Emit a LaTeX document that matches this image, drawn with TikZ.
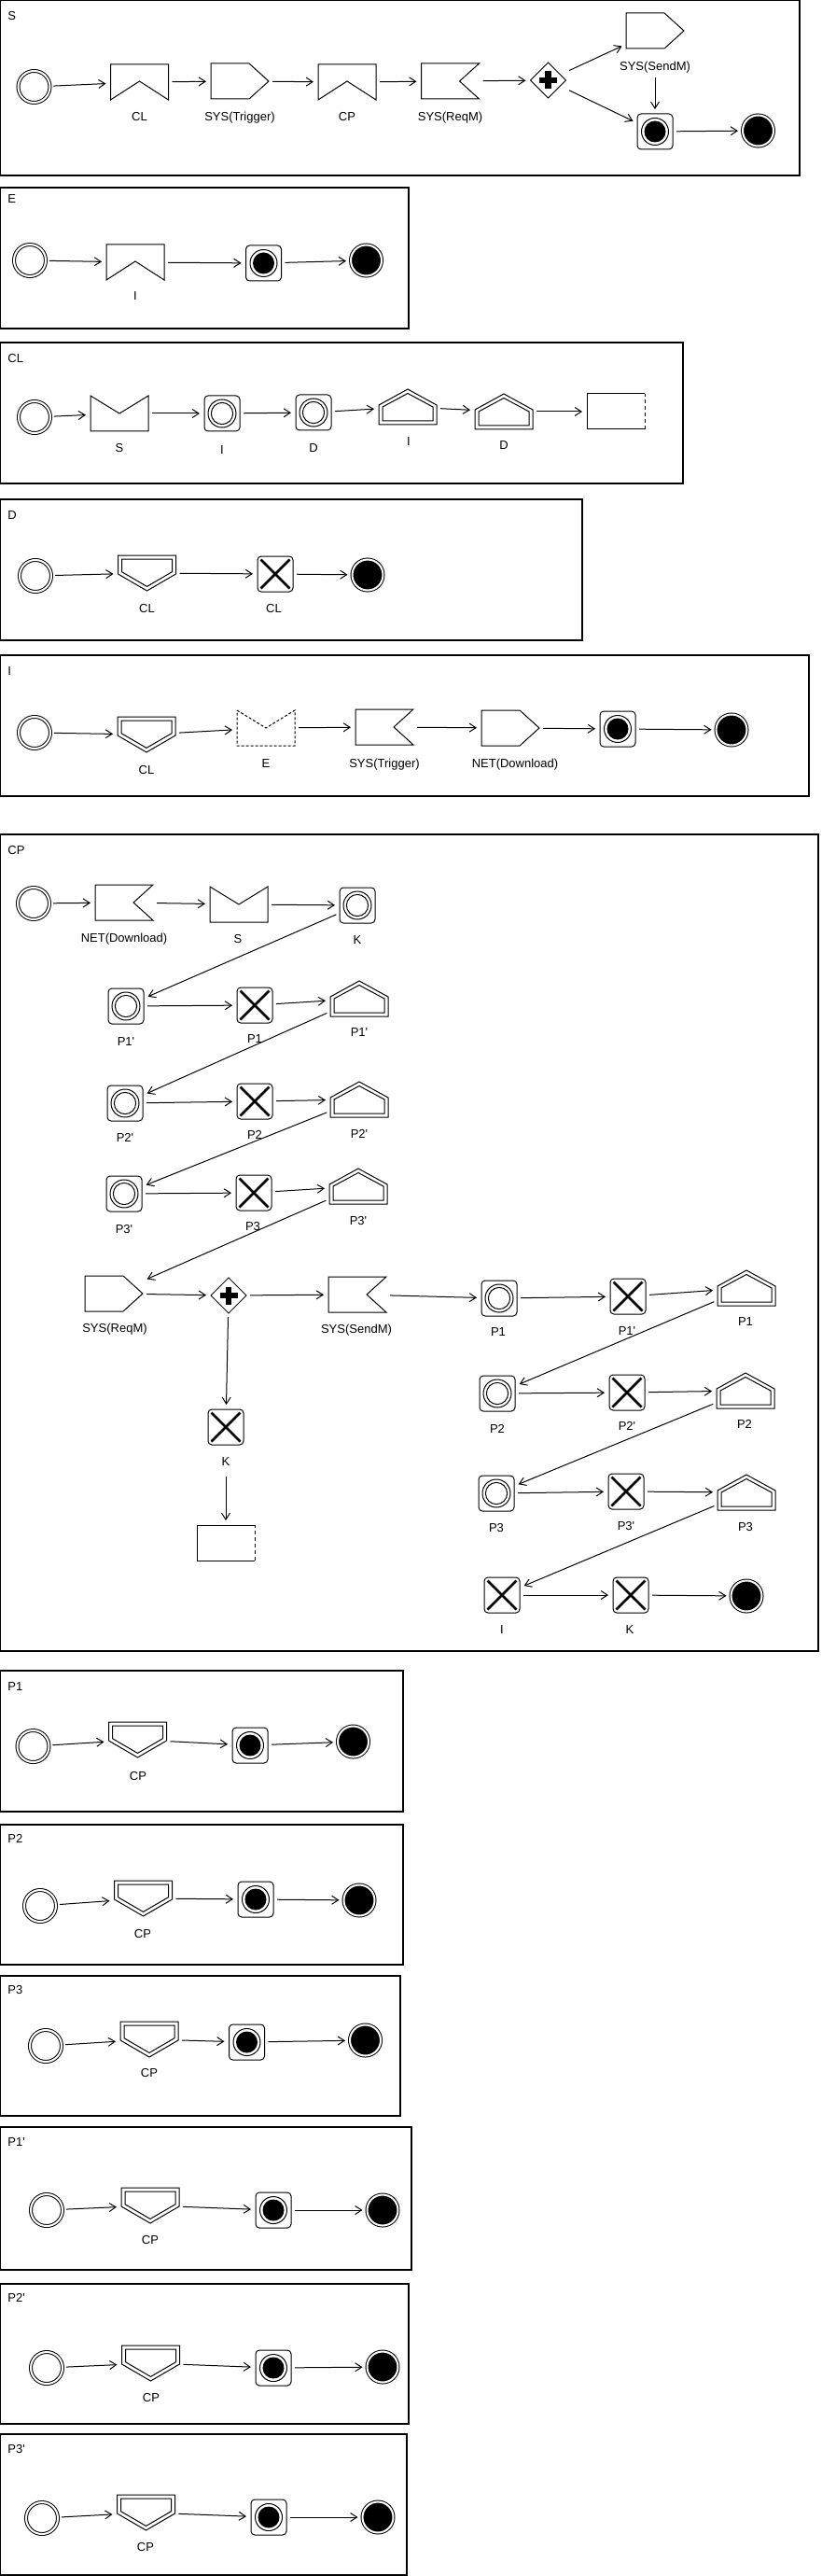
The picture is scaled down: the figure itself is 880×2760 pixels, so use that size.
\documentclass[tikz,border=0pt]{standalone}
\usepackage{fontspec}
\setmainfont{Liberation Sans}
\usetikzlibrary{arrows.meta}
\newcommand\myq{\textquotesingle}
\tikzset{
  lblfont/.style={font=\fontsize{6.5pt}{7.8pt}\selectfont},
  frame/.style={draw, line width=1pt},
  ftitle/.style={lblfont, anchor=west, inner sep=0pt},
  lbl/.style={lblfont, inner sep=0pt, text height=4.8pt, text depth=1.3pt},
  elem/.style={rectangle, minimum width=31pt, minimum height=19pt, inner sep=0pt, outer sep=0pt},
  sq/.style={rectangle, minimum width=19pt, minimum height=19pt, inner sep=0pt, outer sep=0pt},
  deco/.style={append after command={\pgfextra{\begin{pgfinterruptpath}\begin{scope}[shift={(\tikzlastnode.center)}, sharp corners, line width=0.5pt, solid]#1\end{scope}\end{pgfinterruptpath}}}},
  catchA/.style={elem, deco={\draw (-31,-19) -- (31,-19) -- (31,19) -- (0,-1) -- (-31,19) -- cycle;}},
  envel/.style={elem, deco={\draw (-31,-19) -- (0,0) -- (31,-19) -- (31,19) -- (-31,19) -- cycle;}},
  enveldash/.style={elem, deco={\draw[dash pattern=on 1.5pt off 1pt] (-31,-19) -- (0,0) -- (31,-19) -- (31,19) -- (-31,19) -- cycle;}},
  sendR/.style={elem, deco={\draw (-31,-19) -- (10,-19) -- (31,0) -- (10,19) -- (-31,19) -- cycle;}},
  flagR/.style={elem, deco={\draw (-31,-19) -- (31,-19) -- (10,0) -- (31,19) -- (-31,19) -- cycle;}},
  houseup/.style={elem, deco={\draw (-31,19) -- (31,19) -- (31,-2) -- (0,-19) -- (-31,-2) -- cycle (-27,15) -- (27,15) -- (27,0) -- (0,-14.5) -- (-27,0) -- cycle;}},
  housedn/.style={elem, deco={\draw (-31,-19) -- (31,-19) -- (31,1) -- (0,19) -- (-31,1) -- cycle (-27,-15) -- (27,-15) -- (27,-1.3) -- (0,14.4) -- (-27,-1.3) -- cycle;}},
  dashrect/.style={elem, deco={\draw (31,-19) -- (-31,-19) -- (-31,19) -- (31,19); \draw[dash pattern=on 2pt off 1.5pt] (31,19) -- (31,-19);}},
  gate/.style={sq, deco={\draw (0,-19) -- (19,0) -- (0,19) -- (-19,0) -- cycle; \draw[line width=3.2pt] (-9.5,0) -- (9.5,0) (0,-9.5) -- (0,9.5);}},
  taskbase/.style={sq, draw, rounded corners=2pt},
  taskint/.style={taskbase, deco={\draw (0,0) circle[radius=7.5pt] (0,0) circle[radius=5.8pt];}},
  taskend/.style={taskbase, deco={\draw (0,0) circle[radius=7.25pt]; \fill (0,0) circle[radius=5.75pt];}},
  taskx/.style={taskbase, deco={\draw[line width=1.3pt] (-15.5,-15.5) -- (15.5,15.5) (-15.5,15.5) -- (15.5,-15.5);}},
  startev/.style={circle, draw, double, double distance=1pt, minimum size=17pt, inner sep=0pt, outer sep=0pt},
  endev/.style={circle, draw, fill=black, double, double distance=1pt, minimum size=16.5pt, inner sep=0pt, outer sep=0pt},
  flow/.style={-{Straight Barb[length=3.5pt,width=4.5pt]}, shorten <=2pt, shorten >=2.5pt},
}
\begin{document}
\begin{tikzpicture}[x=0.5pt, y=-0.5pt, line width=0.5pt]
\useasboundingbox (0,0) rectangle (880,2760);

% ================= S
\draw[frame] (0,0) rectangle (857,188);
\node[ftitle] (tS) at (8,17) {S};
\node[startev] (s0) at (36.5,93) {};
\node[catchA] (s1) at (149.5,88) {};
\node[lbl] (s1l) at (149.5,126) {CL};
\node[sendR] (s2) at (257,87) {};
\node[lbl] (s2l) at (257,126) {SYS(Trigger)};
\node[catchA] (s3) at (372,88) {};
\node[lbl] (s3l) at (372,126) {CP};
\node[flagR] (s4) at (482.5,87) {};
\node[lbl] (s4l) at (482.5,126) {SYS(ReqM)};
\node[gate] (s5) at (587.5,86) {};
\node[sendR] (s6) at (702,33) {};
\node[lbl] (s6l) at (702,72) {SYS(SendM)};
\node[taskend] (s7) at (702,141) {};
\node[endev] (s8) at (812.5,140) {};
\draw[flow] (s0) -- (s1);
\draw[flow] (s1) -- (s2);
\draw[flow] (s2) -- (s3);
\draw[flow] (s3) -- (s4);
\draw[flow] (s4) -- (s5);
\draw[flow] (s5) -- (s6);
\draw[flow] (s5) -- (s7);
\draw[flow] (s6l) -- (s7);
\draw[flow] (s7) -- (s8);

% ================= E
\draw[frame] (0,201) rectangle (438,352);
\node[ftitle] (tE) at (8,213) {E};
\node[startev] (e0) at (32,279) {};
\node[catchA] (e1) at (145,281) {};
\node[lbl] (e1l) at (145,318) {I};
\node[taskend] (e2) at (282.5,282) {};
\node[endev] (e3) at (392.5,279) {};
\draw[flow] (e0) -- (e1);
\draw[flow] (e1) -- (e2);
\draw[flow] (e2) -- (e3);

% ================= CL
\draw[frame] (0,367) rectangle (732,518);
\node[ftitle] (tCL) at (8,384) {CL};
\node[startev] (c0) at (37,447) {};
\node[envel] (c1) at (128,443) {};
\node[lbl] (c1l) at (128,481) {S};
\node[taskint] (c2) at (238,443) {};
\node[lbl] (c2l) at (238,483) {I};
\node[taskint] (c3) at (336,442) {};
\node[lbl] (c3l) at (336,481) {D};
\node[houseup] (c4) at (437,436) {};
\node[lbl] (c4l) at (438,474) {I};
\node[houseup] (c5) at (540,441) {};
\node[lbl] (c5l) at (540,478) {D};
\node[dashrect] (c6) at (660,441) {};
\draw[flow] (c0) -- (c1);
\draw[flow] (c1) -- (c2);
\draw[flow] (c2) -- (c3);
\draw[flow] (c3) -- (c4);
\draw[flow] (c4) -- (c5);
\draw[flow] (c5) -- (c6);

% ================= D
\draw[frame] (0,535) rectangle (624,686);
\node[ftitle] (tD) at (8,552) {D};
\node[startev] (d0) at (38,617) {};
\node[housedn] (d1) at (157.5,614) {};
\node[lbl] (d1l) at (157.5,653) {CL};
\node[taskx] (d2) at (295,615) {};
\node[lbl] (d2l) at (293.5,653) {CL};
\node[endev] (d3) at (394,616) {};
\draw[flow] (d0) -- (d1);
\draw[flow] (d1) -- (d2);
\draw[flow] (d2) -- (d3);

% ================= I
\draw[frame] (0,702) rectangle (867,853);
\node[ftitle] (tI) at (8,719) {I};
\node[startev] (i0) at (37,785) {};
\node[housedn] (i1) at (157,787) {};
\node[lbl] (i1l) at (157,826) {CL};
\node[enveldash] (i2) at (285,780) {};
\node[lbl] (i2l) at (285,819) {E};
\node[flagR] (i3) at (412,779) {};
\node[lbl] (i3l) at (412,819) {SYS(Trigger)};
\node[sendR] (i4) at (547,780) {};
\node[lbl] (i4l) at (552,819) {NET(Download)};
\node[taskend] (i5) at (662,781) {};
\node[endev] (i6) at (784,782) {};
\draw[flow] (i0) -- (i1);
\draw[flow] (i1) -- (i2);
\draw[flow] (i2) -- (i3);
\draw[flow] (i3) -- (i4);
\draw[flow] (i4) -- (i5);
\draw[flow] (i5) -- (i6);

% ================= CP
\draw[frame] (0,894) rectangle (877,1769);
\node[ftitle] (tCP) at (8,911) {CP};
\node[startev] (p0) at (36,968) {};
\node[flagR] (p1) at (133,967) {};
\node[lbl] (p1l) at (133,1006) {NET(Download)};
\node[envel] (p2) at (256,969) {};
\node[lbl] (p2l) at (255,1007) {S};
\node[taskint] (p3) at (383,970) {};
\node[lbl] (p3l) at (383,1008) {K};
\node[taskint] (p4) at (135,1078) {};
\node[lbl] (p4l) at (135,1117) {P1\myq};
\node[taskx] (p5) at (273,1077) {};
\node[lbl] (p5l) at (273,1114) {P1};
\node[houseup] (p6) at (385,1070) {};
\node[lbl] (p6l) at (385,1107) {P1\myq};
\node[taskint] (p7) at (134,1182) {};
\node[lbl] (p7l) at (134,1220) {P2\myq};
\node[taskx] (p8) at (273,1180) {};
\node[lbl] (p8l) at (273,1217) {P2};
\node[houseup] (p9) at (385,1178) {};
\node[lbl] (p9l) at (385,1216) {P2\myq};
\node[taskint] (p10) at (133,1279) {};
\node[lbl] (p10l) at (133,1318) {P3\myq};
\node[taskx] (p11) at (272,1278) {};
\node[lbl] (p11l) at (271,1315) {P3};
\node[houseup] (p12) at (384,1271) {};
\node[lbl] (p12l) at (384,1309) {P3\myq};
\node[sendR] (p13) at (122,1386) {};
\node[lbl] (p13l) at (123,1424) {SYS(ReqM)};
\node[gate] (p14) at (245,1388) {};
\node[flagR] (p15) at (383,1387) {};
\node[lbl] (p15l) at (382,1425) {SYS(SendM)};
\node[taskx] (p16) at (242,1529) {};
\node[lbl] (p16l) at (242,1567) {K};
\node[dashrect] (p17) at (242,1653) {};
\node[taskint] (p18) at (535,1391) {};
\node[lbl] (p18l) at (534,1428) {P1};
\node[taskx] (p19) at (673,1389) {};
\node[lbl] (p19l) at (672,1427) {P1\myq};
\node[houseup] (p20) at (800,1380) {};
\node[lbl] (p20l) at (799,1417) {P1};
\node[taskint] (p21) at (533,1493) {};
\node[lbl] (p21l) at (533,1532) {P2};
\node[taskx] (p22) at (672,1492) {};
\node[lbl] (p22l) at (672,1529) {P2\myq};
\node[houseup] (p23) at (799,1490) {};
\node[lbl] (p23l) at (798,1527) {P2};
\node[taskint] (p24) at (532,1600) {};
\node[lbl] (p24l) at (532,1638) {P3};
\node[taskx] (p25) at (671,1598) {};
\node[lbl] (p25l) at (671,1636) {P3\myq};
\node[houseup] (p26) at (800,1599) {};
\node[lbl] (p26l) at (799,1637) {P3};
\node[taskx] (p27) at (538,1709) {};
\node[lbl] (p27l) at (538,1747) {I};
\node[taskx] (p28) at (676,1709) {};
\node[lbl] (p28l) at (675,1747) {K};
\node[endev] (p29) at (800,1710) {};
\draw[flow] (p0) -- (p1);
\draw[flow] (p1) -- (p2);
\draw[flow] (p2) -- (p3);
\draw[flow] (p3) -- (p4);
\draw[flow] (p4) -- (p5);
\draw[flow] (p5) -- (p6);
\draw[flow] (p6) -- (p7);
\draw[flow] (p7) -- (p8);
\draw[flow] (p8) -- (p9);
\draw[flow] (p9) -- (p10);
\draw[flow] (p10) -- (p11);
\draw[flow] (p11) -- (p12);
\draw[flow] (p12) -- (p13);
\draw[flow] (p13) -- (p14);
\draw[flow] (p14) -- (p15);
\draw[flow] (p14) -- (p16);
\draw[flow, shorten <=4pt] (p16l) -- (p17);
\draw[flow] (p15) -- (p18);
\draw[flow] (p18) -- (p19);
\draw[flow] (p19) -- (p20);
\draw[flow] (p20) -- (p21);
\draw[flow] (p21) -- (p22);
\draw[flow] (p22) -- (p23);
\draw[flow] (p23) -- (p24);
\draw[flow] (p24) -- (p25);
\draw[flow] (p25) -- (p26);
\draw[flow] (p26) -- (p27);
\draw[flow] (p27) -- (p28);
\draw[flow] (p28) -- (p29);

% ================= P1
\draw[frame] (0,1790) rectangle (432,1941);
\node[ftitle] (tP1) at (8,1807) {P1};
\node[startev] (a0) at (35.5,1871) {};
\node[housedn] (a1) at (147.5,1864) {};
\node[lbl] (a1l) at (148,1904) {CP};
\node[taskend] (a2) at (268,1870) {};
\node[endev] (a3) at (378.5,1866) {};
\draw[flow] (a0) -- (a1);
\draw[flow] (a1) -- (a2);
\draw[flow] (a2) -- (a3);

% ================= P2
\draw[frame] (0,1955) rectangle (432,2105);
\node[ftitle] (tP2) at (8,1970) {P2};
\node[startev] (b0) at (43,2042) {};
\node[housedn] (b1) at (153.5,2034) {};
\node[lbl] (b1l) at (153,2073) {CP};
\node[taskend] (b2) at (274,2035) {};
\node[endev] (b3) at (385,2036) {};
\draw[flow] (b0) -- (b1);
\draw[flow] (b1) -- (b2);
\draw[flow] (b2) -- (b3);

% ================= P3
\draw[frame] (0,2117) rectangle (429,2267);
\node[ftitle] (tP3) at (8,2132) {P3};
\node[startev] (g0) at (49,2192) {};
\node[housedn] (g1) at (160,2185) {};
\node[lbl] (g1l) at (160,2222) {CP};
\node[taskend] (g2) at (264.5,2188) {};
\node[endev] (g3) at (391.5,2186) {};
\draw[flow] (g0) -- (g1);
\draw[flow] (g1) -- (g2);
\draw[flow] (g2) -- (g3);

% ================= P1'
\draw[frame] (0,2279) rectangle (441,2432);
\node[ftitle] (tQ1) at (8,2295) {P1\myq};
\node[startev] (h0) at (50,2368) {};
\node[housedn] (h1) at (161,2363) {};
\node[lbl] (h1l) at (161,2401) {CP};
\node[taskend] (h2) at (293,2368) {};
\node[endev] (h3) at (410,2368) {};
\draw[flow] (h0) -- (h1);
\draw[flow] (h1) -- (h2);
\draw[flow] (h2) -- (h3);

% ================= P2'
\draw[frame] (0,2447) rectangle (438,2597);
\node[ftitle] (tQ2) at (8,2462) {P2\myq};
\node[startev] (k0) at (50,2537) {};
\node[housedn] (k1) at (161.5,2532) {};
\node[lbl] (k1l) at (162,2570) {CP};
\node[taskend] (k2) at (293,2537) {};
\node[endev] (k3) at (410,2536) {};
\draw[flow] (k0) -- (k1);
\draw[flow] (k1) -- (k2);
\draw[flow] (k2) -- (k3);

% ================= P3'
\draw[frame] (0,2608) rectangle (436,2759);
\node[ftitle] (tQ3) at (8,2624) {P3\myq};
\node[startev] (m0) at (45,2698) {};
\node[housedn] (m1) at (156.5,2692) {};
\node[lbl] (m1l) at (156,2730) {CP};
\node[taskend] (m2) at (288,2697) {};
\node[endev] (m3) at (405,2697) {};
\draw[flow] (m0) -- (m1);
\draw[flow] (m1) -- (m2);
\draw[flow] (m2) -- (m3);
\end{tikzpicture}
\end{document}
